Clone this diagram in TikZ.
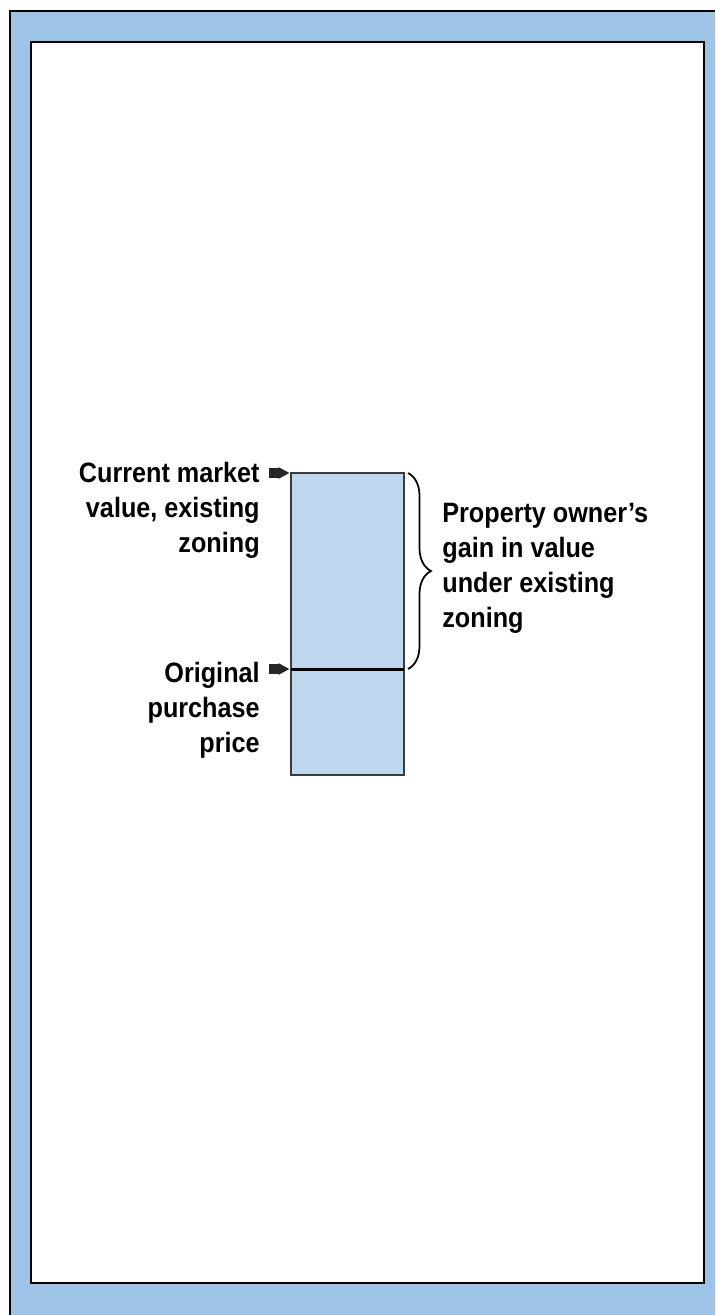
\documentclass[tikz,border=0pt]{standalone}
\usepackage{fontspec}
\setmainfont{Liberation Sans}
\newfontfamily\notefont[FakeStretch=0.9]{Liberation Sans}
\usetikzlibrary{arrows.meta,decorations.pathreplacing}
\definecolor{framebg}{HTML}{9DC3E6}
\definecolor{barfill}{HTML}{BDD7EE}
\definecolor{barline}{HTML}{3A3A3A}
\tikzset{
  barpart/.style={draw=barline,line width=0.3mm,fill=barfill,
                  minimum width=22.6mm,outer sep=0pt,inner sep=0pt},
  valtext/.style={font=\notefont\bfseries\fontsize{5.6mm}{7mm}\selectfont,inner sep=0pt},
  pointer/.style={-{Triangle[length=2.2mm,width=2.2mm]},line width=1.9mm,draw=black!85},
  brace/.style={decorate,decoration={brace,amplitude=4.6mm,raise=0.8mm},line width=0.35mm}
}
\begin{document}
\begin{tikzpicture}[x=0.2mm,y=-0.2mm]
  \useasboundingbox (0,0) rectangle (715,1315);
  % frame
  \fill[framebg] (10,11) rectangle (715,1315);
  \draw[line width=0.4mm] (10,1315) -- (10,11) -- (715,11);
  \draw[line width=0.4mm,fill=white] (31,42) rectangle (704,1283);

  % value bar
  \node[barpart,minimum height=39.2mm] (gain) at (347.5,571) {};
  \node[barpart,minimum height=21.2mm] (base) at (347.5,722) {};
  \draw[line width=0.6mm] (gain.south west) -- (gain.south east);

  \node[valtext,align=right,anchor=north east] (current) at (260,462)
    {Current market\\value, existing\\zoning};
  \node[valtext,align=right,anchor=north east] (original) at (260,662)
    {Original\\purchase\\price};
  \node[valtext,align=left,anchor=north west] (gaintext) at (442,503)
    {Property owner’s\\gain in value\\under existing\\zoning};

  \draw[pointer] ([xshift=1.8mm]current.east |- gain.north west) -- ([xshift=-0.3mm]gain.north west);
  \draw[pointer] ([xshift=1.8mm]original.east |- gain.south west) -- ([xshift=-0.3mm]gain.south west);
  \draw[brace] (gain.north east) -- (gain.south east);
\end{tikzpicture}
\end{document}
